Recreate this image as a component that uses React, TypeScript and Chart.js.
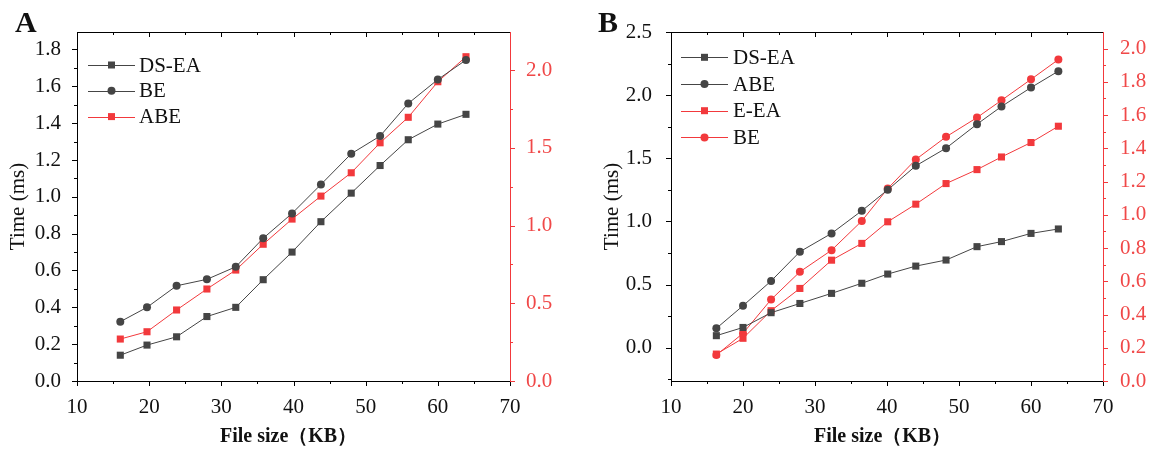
import React, { useEffect, useRef } from 'react';
import { Chart, registerables } from 'chart.js';

Chart.register(...registerables);

// ---------------- data ----------------
// Panel A
const xA = [16, 19.7, 23.8, 28, 32, 35.8, 39.8, 43.8, 48, 52, 55.9, 60, 63.9];
const aDSEA = [0.14, 0.195, 0.24, 0.35, 0.4, 0.55, 0.7, 0.865, 1.02, 1.17, 1.31, 1.395, 1.448];
const aBE = [0.322, 0.4, 0.517, 0.552, 0.62, 0.775, 0.91, 1.067, 1.234, 1.33, 1.507, 1.637, 1.743];
const aABE = [0.27, 0.317, 0.457, 0.592, 0.714, 0.88, 1.042, 1.19, 1.34, 1.533, 1.697, 1.926, 2.087];

// Panel B
const xB = [16.3, 20, 23.9, 27.9, 32.3, 36.5, 40.1, 44, 48.2, 52.5, 55.9, 60, 63.8];
const bDSEA = [0.095, 0.16, 0.277, 0.35, 0.43, 0.51, 0.583, 0.646, 0.694, 0.8, 0.84, 0.905, 0.94];
const bABE = [0.153, 0.332, 0.528, 0.76, 0.905, 1.084, 1.25, 1.44, 1.58, 1.77, 1.91, 2.06, 2.19];
const bEEA = [0.162, 0.257, 0.423, 0.557, 0.727, 0.828, 0.958, 1.064, 1.188, 1.272, 1.348, 1.435, 1.533];
const bBE = [0.156, 0.287, 0.49, 0.657, 0.787, 0.963, 1.158, 1.333, 1.469, 1.585, 1.689, 1.815, 1.934];

// ticks
const xMajor = [10, 20, 30, 40, 50, 60, 70];
const xMinor = [15, 25, 35, 45, 55, 65];
const aYMajor = [0, 0.2, 0.4, 0.6, 0.8, 1.0, 1.2, 1.4, 1.6, 1.8];
const aYMinor = [0.1, 0.3, 0.5, 0.7, 0.9, 1.1, 1.3, 1.5, 1.7];
const aY1Major = [0, 0.5, 1.0, 1.5, 2.0];
const aY1Minor = [0.25, 0.75, 1.25, 1.75];
const bYMajor = [0, 0.5, 1.0, 1.5, 2.0, 2.5];
const bYMinor = [-0.25, 0.25, 0.75, 1.25, 1.75, 2.25];
const bY1Major = [0, 0.2, 0.4, 0.6, 0.8, 1.0, 1.2, 1.4, 1.6, 1.8, 2.0];
const bY1Minor = [0.1, 0.3, 0.5, 0.7, 0.9, 1.1, 1.3, 1.5, 1.7, 1.9];

const xTitle = 'File size（KB）';
const yTitle = 'Time (ms)';

// ---------------- styles ----------------
const GRAY = '#454545';
const RED = '#f2393c';
const RED_TXT = '#f04848';
const INK = '#111111';
const SERIF = "'Liberation Serif', 'Times New Roman', serif";

type Series = { label: string; xs: number[]; ys: number[]; color: string; style: 'rect' | 'circle'; axis: 'y' | 'y1' };

type Panel = {
  letter: string;
  letterX: number;
  leftW: number;
  rightW: number;
  yMin: number; yMax: number; yMajor: number[]; yMinor: number[];
  y1Min: number; y1Max: number; y1Major: number[]; y1Minor: number[];
  y1Decimals: number;
  leftPad: number; rightPad: number;
  yTitleX: number; xTitleX: number;
  legX1: number; legX2: number; legTextX: number; legY0: number; legDy: number;
  series: Series[];
};

const panelA: Panel = {
  letter: 'A', letterX: 15,
  leftW: 77, rightW: 67,
  yMin: 0, yMax: 1.895, yMajor: aYMajor, yMinor: aYMinor,
  y1Min: 0, y1Max: 2.246, y1Major: aY1Major, y1Minor: aY1Minor, y1Decimals: 1,
  leftPad: 8, rightPad: 8,
  yTitleX: 18.5, xTitleX: 220,
  legX1: 88, legX2: 135, legTextX: 139, legY0: 65, legDy: 25.8,
  series: [
    { label: 'DS-EA', xs: xA, ys: aDSEA, color: GRAY, style: 'rect', axis: 'y' },
    { label: 'BE', xs: xA, ys: aBE, color: GRAY, style: 'circle', axis: 'y' },
    { label: 'ABE', xs: xA, ys: aABE, color: RED, style: 'rect', axis: 'y1' },
  ],
};

const panelB: Panel = {
  letter: 'B', letterX: 21,
  leftW: 94, rightW: 51,
  yMin: -0.264, yMax: 2.5, yMajor: bYMajor, yMinor: bYMinor,
  y1Min: 0, y1Max: 2.1, y1Major: bY1Major, y1Minor: bY1Minor, y1Decimals: 1,
  leftPad: 11, rightPad: 9,
  yTitleX: 35, xTitleX: 237,
  legX1: 104, legX2: 151, legTextX: 156, legY0: 57.3, legDy: 26.7,
  series: [
    { label: 'DS-EA', xs: xB, ys: bDSEA, color: GRAY, style: 'rect', axis: 'y' },
    { label: 'ABE', xs: xB, ys: bABE, color: GRAY, style: 'circle', axis: 'y' },
    { label: 'E-EA', xs: xB, ys: bEEA, color: RED, style: 'rect', axis: 'y1' },
    { label: 'BE', xs: xB, ys: bBE, color: RED, style: 'circle', axis: 'y1' },
  ],
};

const W = 577;
const H = 449;
const PLOT_TOP = 32;
const PLOT_BOTTOM = 381;

function drawMarker(ctx: CanvasRenderingContext2D, style: string, x: number, y: number, color: string) {
  ctx.fillStyle = color;
  if (style === 'rect') {
    ctx.fillRect(x - 3.5, y - 3.5, 7, 7);
  } else {
    ctx.beginPath();
    ctx.arc(x, y, 4, 0, Math.PI * 2);
    ctx.fill();
  }
}

function makeDeco(p: Panel) {
  return {
    id: 'deco' + p.letter,
    afterDraw(chart: any) {
      const ctx: CanvasRenderingContext2D = chart.ctx;
      const ca = chart.chartArea;
      const xs = chart.scales.x;
      const ys = chart.scales.y;
      const y1 = chart.scales.y1;
      const r = (v: number) => Math.round(v) + 0.5;
      ctx.save();
      ctx.lineWidth = 1;
      // top border
      ctx.strokeStyle = '#000';
      ctx.beginPath();
      ctx.moveTo(ca.left, r(ca.top));
      ctx.lineTo(ca.right, r(ca.top));
      ctx.stroke();
      // x ticks bottom (outward) and top (inward)
      const xt = (vals: number[], len: number, inner: boolean) => {
        vals.forEach((v) => {
          const px = r(xs.getPixelForValue(v));
          ctx.beginPath();
          ctx.moveTo(px, ca.bottom);
          ctx.lineTo(px, ca.bottom + len);
          if (inner && v > 10 && v < 70) {
            ctx.moveTo(px, ca.top);
            ctx.lineTo(px, ca.top + len);
          }
          ctx.stroke();
        });
      };
      xt(xMajor, 5, true);
      xt(xMinor, 3, true);
      // left y ticks
      const yt = (scale: any, vals: number[], len: number, xEdge: number, dir: number) => {
        vals.forEach((v) => {
          const py = r(scale.getPixelForValue(v));
          ctx.beginPath();
          ctx.moveTo(xEdge, py);
          ctx.lineTo(xEdge + dir * len, py);
          ctx.stroke();
        });
      };
      yt(ys, p.yMajor, 5, ca.left, -1);
      yt(ys, p.yMinor, 3, ca.left, -1);
      ctx.strokeStyle = RED;
      yt(y1, p.y1Major, 5, ca.right, 1);
      yt(y1, p.y1Minor, 3, ca.right, 1);

      // legend
      p.series.forEach((s, i) => {
        const ly = p.legY0 + i * p.legDy;
        ctx.strokeStyle = s.color;
        ctx.beginPath();
        ctx.moveTo(p.legX1, r(ly));
        ctx.lineTo(p.legX2, r(ly));
        ctx.stroke();
        drawMarker(ctx, s.style, (p.legX1 + p.legX2) / 2, ly, s.color);
        ctx.fillStyle = INK;
        ctx.font = `21px ${SERIF}`;
        ctx.textAlign = 'left';
        ctx.textBaseline = 'middle';
        ctx.fillText(s.label, p.legTextX, ly + 1);
      });

      // axis titles
      ctx.fillStyle = INK;
      ctx.save();
      ctx.translate(p.yTitleX, (ca.top + ca.bottom) / 2);
      ctx.rotate(-Math.PI / 2);
      ctx.font = `21px ${SERIF}`;
      ctx.textAlign = 'center';
      ctx.textBaseline = 'middle';
      ctx.fillText(yTitle, 0, 0);
      ctx.restore();

      ctx.font = `bold 20px ${SERIF}`;
      ctx.textAlign = 'left';
      ctx.textBaseline = 'middle';
      ctx.fillText(xTitle, p.xTitleX, 437);

      // panel letter
      ctx.font = `bold 30px ${SERIF}`;
      ctx.textBaseline = 'alphabetic';
      ctx.fillText(p.letter, p.letterX, 32);
      ctx.restore();
    },
  };
}

function buildConfig(p: Panel): any {
  const tickFont = { family: SERIF, size: 21 };
  return {
    type: 'line',
    data: {
      datasets: p.series.map((s) => ({
        label: s.label,
        data: s.xs.map((x, i) => ({ x, y: s.ys[i] })),
        borderColor: s.color,
        backgroundColor: s.color,
        pointBackgroundColor: s.color,
        pointBorderColor: s.color,
        pointStyle: s.style,
        pointRadius: s.style === 'rect' ? 5 : 4,
        pointBorderWidth: 0,
        borderWidth: 1,
        tension: 0,
        yAxisID: s.axis,
      })),
    },
    options: {
      animation: false,
      responsive: true,
      maintainAspectRatio: false,
      layout: { padding: { top: PLOT_TOP, left: 0, right: 0, bottom: 0 } },
      plugins: { legend: { display: false }, tooltip: { enabled: false } },
      scales: {
        x: {
          type: 'linear',
          position: 'bottom',
          min: 10,
          max: 70,
          grid: { display: false },
          border: { display: true, color: '#000', width: 1 },
          afterBuildTicks: (s: any) => { s.ticks = xMajor.map((v) => ({ value: v })); },
          afterFit: (s: any) => { s.height = H - PLOT_BOTTOM; },
          ticks: {
            font: tickFont, color: INK, padding: 6, autoSkip: false, maxRotation: 0,
            callback: (v: any) => String(Math.round(Number(v))),
          },
        },
        y: {
          type: 'linear',
          position: 'left',
          min: p.yMin,
          max: p.yMax,
          grid: { display: false },
          border: { display: true, color: '#000', width: 1 },
          afterBuildTicks: (s: any) => { s.ticks = p.yMajor.map((v) => ({ value: v })); },
          afterFit: (s: any) => { s.width = p.leftW; },
          ticks: {
            font: tickFont, color: INK, padding: p.leftPad, autoSkip: false,
            callback: (v: any) => Number(v).toFixed(1),
          },
        },
        y1: {
          type: 'linear',
          position: 'right',
          min: p.y1Min,
          max: p.y1Max,
          grid: { display: false },
          border: { display: true, color: RED, width: 1 },
          afterBuildTicks: (s: any) => { s.ticks = p.y1Major.map((v) => ({ value: v })); },
          afterFit: (s: any) => { s.width = p.rightW; },
          ticks: {
            font: tickFont, color: RED_TXT, padding: p.rightPad, autoSkip: false,
            callback: (v: any) => Number(v).toFixed(p.y1Decimals),
          },
        },
      },
    },
    plugins: [makeDeco(p)],
  };
}

function PanelChart({ panel, left }: { panel: Panel; left: number }) {
  const ref = useRef<HTMLCanvasElement | null>(null);
  useEffect(() => {
    if (!ref.current) return;
    const chart = new Chart(ref.current, buildConfig(panel));
    return () => chart.destroy();
  }, [panel]);
  return (
    <div style={{ position: 'absolute', left, top: 0, width: W, height: H }}>
      <canvas ref={ref} />
    </div>
  );
}

export default function App() {
  return (
    <div style={{ position: 'absolute', left: 0, top: 0, width: 1154, height: 449, background: '#fff', overflow: 'hidden' }}>
      <PanelChart panel={panelA} left={0} />
      <PanelChart panel={panelB} left={577} />
    </div>
  );
}
